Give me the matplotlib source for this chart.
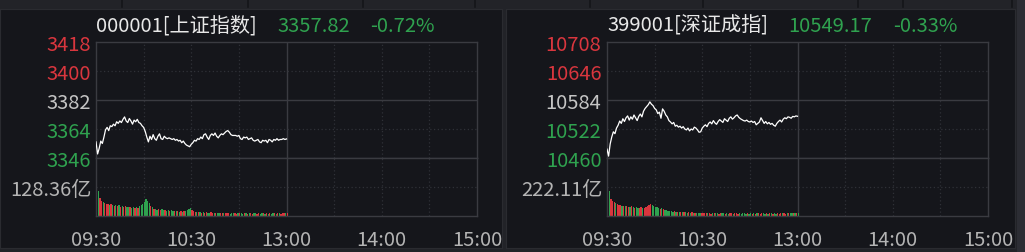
import numpy as np
import matplotlib
matplotlib.use("Agg")
import matplotlib.pyplot as plt
import matplotlib.transforms as mtransforms

plt.rcParams['font.family'] = ['Noto Sans CJK SC', 'DejaVu Sans']

# 分时数据（09:30-11:30，每分钟一个点）
sh_price = [3356.0, 3348.5, 3352.0, 3356.5, 3355.0, 3359.0, 3363.5, 3365.0, 3363.0, 3366.0,
            3365.5, 3367.0, 3366.0, 3368.5, 3367.5, 3369.0, 3368.0, 3370.0, 3371.5, 3369.0,
            3368.0, 3370.5, 3369.0, 3367.0, 3369.5, 3368.5, 3370.0, 3368.0, 3367.5, 3366.0,
            3365.0, 3362.5, 3359.0, 3356.0, 3359.5, 3357.5, 3360.5, 3358.0, 3357.0, 3359.5,
            3361.0, 3358.0, 3357.5, 3359.5, 3358.5, 3358.0, 3358.5, 3358.0, 3357.5, 3358.0,
            3357.0, 3357.5, 3356.5, 3357.0, 3355.5, 3356.5, 3355.0, 3354.0, 3353.5, 3353.0,
            3354.5, 3355.5, 3357.0, 3356.5, 3358.0, 3357.5, 3359.0, 3358.0, 3360.5, 3361.0,
            3359.0, 3357.5, 3360.0, 3361.0, 3360.0, 3361.5, 3359.5, 3358.5, 3360.0, 3361.0,
            3360.5, 3361.5, 3362.5, 3363.0, 3362.0, 3360.5, 3360.0, 3360.0, 3360.0, 3359.5,
            3360.0, 3358.0, 3357.5, 3359.0, 3358.5, 3359.0, 3357.5, 3358.0, 3358.5, 3357.0,
            3356.5, 3357.0, 3357.5, 3356.0, 3355.5, 3357.0, 3356.5, 3357.0, 3355.5, 3357.5,
            3357.0, 3356.0, 3357.5, 3357.0, 3358.0, 3357.0, 3357.5, 3357.5, 3358.0, 3357.5,
            3357.82]
sh_vol = [256, 110, 80, 66, 62, 58, 55, 52, 50, 54,
          48, 46, 50, 44, 47, 42, 45, 40, 43, 41,
          38, 42, 37, 40, 36, 38, 35, 44, 48, 55,
          62, 75, 68, 58, 45, 38, 32, 30, 28, 33,
          27, 30, 25, 28, 24, 26, 22, 25, 21, 23,
          20, 22, 19, 21, 18, 20, 22, 26, 30, 34,
          28, 20, 17, 19, 16, 18, 15, 17, 14, 16,
          15, 13, 16, 14, 12, 15, 13, 14, 12, 15,
          13, 12, 14, 13, 11, 14, 12, 13, 11, 13,
          12, 14, 11, 12, 13, 11, 12, 14, 11, 12,
          13, 11, 12, 10, 12, 13, 11, 12, 10, 13,
          11, 12, 14, 11, 12, 13, 11, 12, 14, 13,
          15]

sz_price = [10479, 10464, 10490, 10505, 10516, 10512, 10524, 10530, 10539, 10534,
            10544, 10538, 10546, 10550, 10541, 10548, 10543, 10552, 10546, 10540,
            10549, 10554, 10548, 10560, 10566, 10570, 10574, 10580, 10575, 10572,
            10566, 10563, 10555, 10558, 10545, 10565, 10560, 10552, 10548, 10540,
            10537, 10533, 10536, 10528, 10530, 10526, 10528, 10524, 10527, 10522,
            10520, 10524, 10518, 10522, 10520, 10526, 10524, 10520, 10515, 10516,
            10524, 10528, 10531, 10527, 10534, 10537, 10533, 10540, 10535, 10532,
            10538, 10542, 10539, 10536, 10544, 10541, 10538, 10545, 10548, 10543,
            10546, 10550, 10552, 10547, 10544, 10542, 10540, 10539, 10541, 10538,
            10537, 10539, 10536, 10538, 10531, 10534, 10537, 10546, 10540, 10534,
            10538, 10533, 10536, 10532, 10534, 10530, 10528, 10534, 10538, 10541,
            10537, 10543, 10546, 10544, 10548, 10547, 10545, 10549, 10548, 10550,
            10549.17]
sz_vol = [444, 190, 130, 115, 105, 98, 92, 88, 84, 80,
          78, 75, 80, 72, 70, 74, 68, 65, 70, 64,
          62, 66, 60, 64, 70, 76, 82, 90, 84, 78,
          72, 66, 60, 56, 62, 54, 48, 44, 40, 38,
          35, 33, 36, 31, 33, 30, 28, 31, 27, 29,
          26, 28, 25, 27, 24, 26, 23, 25, 22, 24,
          22, 21, 23, 20, 22, 19, 21, 23, 20, 22,
          19, 21, 20, 22, 19, 21, 18, 20, 22, 19,
          21, 20, 18, 21, 19, 20, 22, 19, 21, 18,
          20, 19, 21, 18, 20, 22, 19, 21, 20, 18,
          21, 19, 20, 22, 19, 21, 18, 20, 19, 21,
          20, 22, 19, 21, 20, 23, 21, 20, 22, 24,
          26]

panels = [
    dict(code="000001[上证指数]", last="3357.82", pct="-0.72%",
         levels=[3346, 3364, 3382, 3400, 3418], price=sh_price, vol=sh_vol,
         vol_label="128.36亿", vol_mid=128.36, x0=96),
    dict(code="399001[深证成指]", last="10549.17", pct="-0.33%",
         levels=[10460, 10522, 10584, 10646, 10708], price=sz_price, vol=sz_vol,
         vol_label="222.11亿", vol_mid=222.11, x0=607),
]
time_ticks = [0, 60, 120, 180, 240]
time_labels = ["09:30", "10:30", "13:00", "14:00", "15:00"]

W, H = 1025, 253
BG = '#15161b'
GRID = '#3a3b41'
DOT = '#2f3137'
RED = '#d9363e'
GREEN = '#2fa24f'
GRAY = '#b4b4b4'
FS = 14.5


def rect(x0, y0, x1, y1):
    return [x0 / W, 1 - y1 / H, (x1 - x0) / W, (y1 - y0) / H]


fig = plt.figure(figsize=(W / 100, H / 100), dpi=100, facecolor='#222328')

# 顶部标签栏分隔线
for xs in [122, 248, 363, 475, 590, 703, 858, 903, 1012]:
    fig.add_artist(plt.Line2D([xs / W, xs / W], [1 - 1 / H, 1 - 8 / H], color='#141519', lw=1.2))
# 右侧滚动条
fig.add_artist(plt.Rectangle((1017 / W, 0), 8 / W, 1, color='#2c2d34', lw=0))

bg_boxes = [(0, 10, 502, 249), (506, 10, 1015, 249)]

for p, box in zip(panels, bg_boxes):
    x0 = p['x0']
    x1 = x0 + 381
    bg = fig.add_axes(rect(*box), facecolor=BG)
    bg.set_xticks([])
    bg.set_yticks([])
    for s in bg.spines.values():
        s.set_color('#2a2b30')

    ax = fig.add_axes(rect(x0, 43, x1, 159), facecolor=BG)
    vx = fig.add_axes(rect(x0, 159, x1, 217), facecolor=BG)
    lv = p['levels']
    ax.set_ylim(lv[0], lv[-1])
    ax.set_xlim(0, 240)
    vx.set_xlim(0, 240)
    vx.set_ylim(0, 2 * p['vol_mid'])

    for a in (ax, vx):
        for s in a.spines.values():
            s.set_color(GRID)
            s.set_linewidth(1.0)
        for m in [30, 60, 90, 150, 180, 210]:
            a.axvline(m, color=DOT, lw=0.9, ls=(0, (1, 2)), zorder=0)
        a.axvline(120, color=GRID, lw=1.0, zorder=0)
        a.set_xticks([])
    ax.axhline(lv[1], color=DOT, lw=0.9, ls=(0, (1, 2)), zorder=0)
    ax.axhline(lv[3], color=DOT, lw=0.9, ls=(0, (1, 2)), zorder=0)
    ax.axhline(lv[2], color=GRID, lw=1.0, zorder=0)
    vx.axhline(p['vol_mid'], color=DOT, lw=0.9, ls=(0, (1, 2)), zorder=0)

    ax.set_yticks(lv)
    ax.set_yticklabels([str(v) for v in lv], fontsize=FS)
    ax.tick_params(axis='y', length=0, pad=4)
    for t, c in zip(ax.get_yticklabels(), [GREEN, GREEN, '#c4c4c4', RED, RED]):
        t.set_color(c)
    vx.set_yticks([p['vol_mid']])
    vx.set_yticklabels([p['vol_label']], fontsize=FS, color=GRAY)
    vx.tick_params(axis='y', length=0, pad=3)

    price = np.array(p['price'])
    minutes = np.arange(len(price))
    ax.plot(minutes, price, color='white', lw=0.9, zorder=3)

    prev = np.concatenate([[lv[2]], price[:-1]])
    bar_colors = [RED if c >= o else GREEN for c, o in zip(price, prev)]
    vx.bar(minutes + 0.5, p['vol'], width=0.8, color=bar_colors, zorder=2)

    trans = mtransforms.blended_transform_factory(vx.transData, vx.transAxes)
    for tk, tl in zip(time_ticks, time_labels):
        bg.text(tk, -0.40, tl, transform=trans, ha='center', va='center',
                fontsize=FS, color=GRAY, clip_on=True)

    fig.text(x0 / W, 1 - 32 / H, p['code'], color='#e8e8e8', fontsize=FS, va='baseline')
    fig.text((x0 + 181) / W, 1 - 32 / H, p['last'], color=GREEN, fontsize=FS, va='baseline')
    pct_x = x0 + (274 if x0 < 500 else 286)
    fig.text(pct_x / W, 1 - 32 / H, p['pct'], color=GREEN, fontsize=FS, va='baseline')

fig.savefig('out.png', dpi=100, facecolor=fig.get_facecolor())
